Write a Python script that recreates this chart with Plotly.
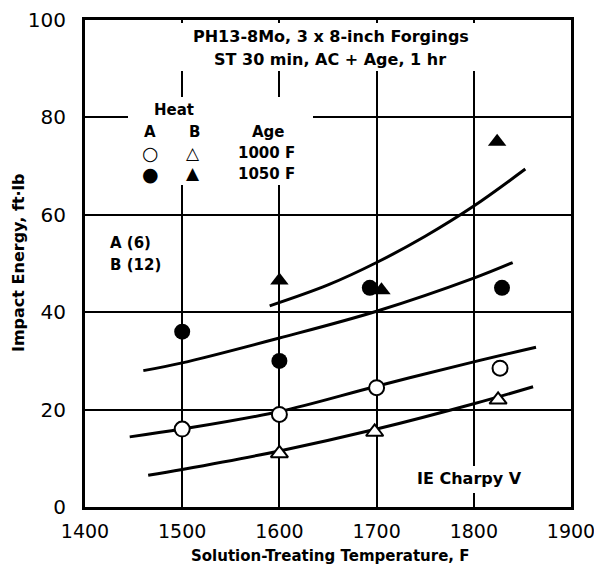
import plotly.graph_objects as go

# ---------------- data ----------------
# Heat A, aged 1050 F (filled circles)
a1050_temp = [1500, 1600, 1693, 1829]
a1050_ie = [36, 30, 45, 45]
# Heat B, aged 1050 F (filled triangles)
b1050_temp = [1600, 1705, 1824]
b1050_ie = [46.5, 44.5, 75]
# Heat A, aged 1000 F (open circles)
a1000_temp = [1500, 1600, 1700, 1827]
a1000_ie = [16, 19, 24.5, 28.5]
# Heat B, aged 1000 F (open triangles)
b1000_temp = [1600, 1698, 1825]
b1000_ie = [11, 15.4, 22]

# trend curves
curve_b1050_x = [1590, 1650, 1700, 1750, 1800, 1853]
curve_b1050_y = [41.3, 45.6, 50.2, 55.6, 61.8, 69.4]
curve_a1050_x = [1460, 1500, 1600, 1700, 1800, 1840]
curve_a1050_y = [28, 29.6, 34.7, 40.2, 47, 50.2]
curve_a1000_x = [1446, 1500, 1600, 1700, 1800, 1864]
curve_a1000_y = [14.4, 16, 19.6, 24.8, 29.8, 32.8]
curve_b1000_x = [1465, 1500, 1600, 1700, 1800, 1861]
curve_b1000_y = [6.5, 7.7, 11.5, 16, 21.2, 24.7]

x_ticks = [1400, 1500, 1600, 1700, 1800, 1900]
y_ticks = [0, 20, 40, 60, 80, 100]

# ---------------- layout helpers ----------------
W, H = 594, 571
L, R, T, B = 85, 23, 20, 64
PW, PH = W - L - R, H - T - B


def px(xp):
    return (xp - L) / PW


def py(yp):
    return (H - B - yp) / PH


FONT = "DejaVu Sans"

fig = go.Figure()

line_style = dict(color="black", width=3)
for cx, cy in [(curve_b1050_x, curve_b1050_y), (curve_a1050_x, curve_a1050_y),
               (curve_a1000_x, curve_a1000_y), (curve_b1000_x, curve_b1000_y)]:
    fig.add_trace(go.Scatter(x=cx, y=cy, mode="lines", line=line_style,
                             line_shape="spline", showlegend=False, hoverinfo="skip"))

fig.add_trace(go.Scatter(x=a1050_temp, y=a1050_ie, mode="markers", showlegend=False,
                         marker=dict(symbol="circle", size=16, color="black")))
fig.add_trace(go.Scatter(x=b1050_temp, y=b1050_ie, mode="markers", showlegend=False,
                         marker=dict(symbol="triangle-up", size=16, color="black")))
fig.add_trace(go.Scatter(x=a1000_temp, y=a1000_ie, mode="markers", showlegend=False,
                         marker=dict(symbol="circle", size=15, color="white",
                                     line=dict(color="black", width=2))))
fig.add_trace(go.Scatter(x=b1000_temp, y=b1000_ie, mode="markers", showlegend=False,
                         marker=dict(symbol="triangle-up", size=15, color="white",
                                     line=dict(color="black", width=2))))

ann = []

# white covers that interrupt the grid behind the text blocks (drawn first)
covers = [
    (150, 540, 23, 71),    # title block
    (128, 313, 97, 185),   # heat / age key
    (405, 535, 466, 493),  # IE Charpy V
]
for x0, x1, y0, y1 in covers:
    ann.append(dict(text=" ", x=px((x0 + x1) / 2), y=py((y0 + y1) / 2),
                    xref="paper", yref="paper", xanchor="center", yanchor="middle",
                    width=x1 - x0, height=y1 - y0, bgcolor="white",
                    borderpad=0, borderwidth=0, showarrow=False))


def text(t, x, y, size=16, bold=True, xanchor="center", angle=0):
    ann.append(dict(text=(f"<b>{t}</b>" if bold else t), x=px(x), y=py(y),
                    xref="paper", yref="paper", xanchor=xanchor, yanchor="middle",
                    showarrow=False, textangle=angle,
                    font=dict(family=FONT, size=size, color="black")))


text("PH13-8Mo, 3 x 8-inch Forgings", 331, 36, 16)
text("ST 30 min, AC + Age, 1 hr", 330, 59, 16)
text("Heat", 174, 110, 15)
text("A", 150, 132, 15)
text("B", 194, 132, 15)
text("Age", 268, 132, 15)
text("○", 150, 153, 19)
text("△", 193, 153, 17)
text("1000 F", 266, 153, 15)
text("●", 150, 174, 19)
text("▲", 193, 173, 17)
text("1050 F", 266, 174, 15)
text("A (6)", 108, 243, 15, xanchor="left")
text("B (12)", 108, 265, 15, xanchor="left")
text("IE Charpy V", 469, 478, 16)
text("Solution-Treating Temperature, F", 330, 556, 15)
text("Impact Energy, ft·lb", 18, 263, 16, angle=-90)

axis_common = dict(showgrid=True, gridcolor="black", gridwidth=2,
                   showline=True, linecolor="black", linewidth=3, mirror=True,
                   ticks="", zeroline=False, ticklabeloverflow="allow",
                   automargin=False)

fig.update_layout(
    width=W, height=H,
    margin=dict(l=L, r=R, t=T, b=B, autoexpand=False),
    paper_bgcolor="white", plot_bgcolor="white",
    annotations=ann,
    xaxis=dict(range=[1400, 1900], tickvals=x_ticks, ticklabelstandoff=5,
               tickfont=dict(family=FONT, size=19, color="black"), **axis_common),
    yaxis=dict(range=[0, 100], tickvals=y_ticks, ticklabelstandoff=12,
               tickfont=dict(family=FONT, size=20, color="black"), **axis_common),
    showlegend=False,
)

fig.write_html("out.html")
